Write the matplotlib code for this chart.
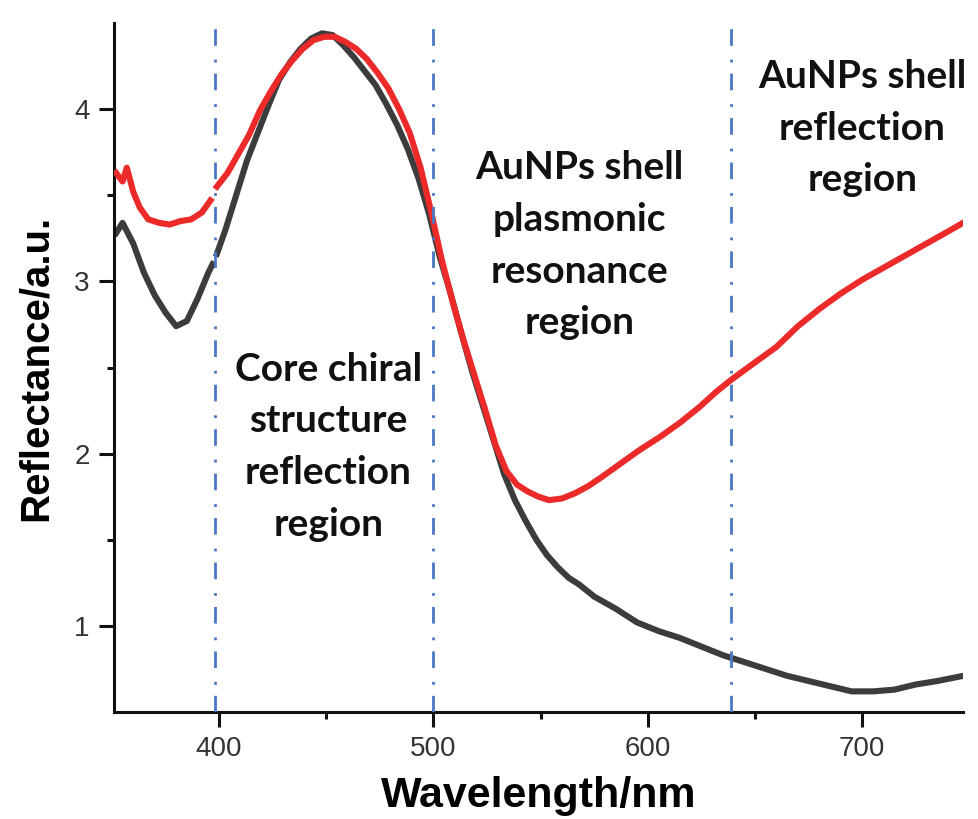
import numpy as np
import matplotlib
matplotlib.use("Agg")
import matplotlib.pyplot as plt

# ---------------------------------------------------------------------------
# Data
# ---------------------------------------------------------------------------
wl_black = [352, 355, 360, 365, 370, 375, 380, 385, 390, 395, 397, 398,
            399, 403, 408, 413, 418, 423, 428, 433, 438, 443, 448, 453,
            458, 463, 468, 473, 478, 483, 488, 493, 498, 503, 508, 513,
            518, 523, 528, 533, 538, 543, 548, 553, 558, 563, 568, 575,
            585, 595, 605, 615, 625, 635, 645, 655, 665, 675, 685, 695,
            705, 715, 725, 735, 747]
r_black = [3.28, 3.34, 3.22, 3.05, 2.92, 2.82, 2.74, 2.77, 2.90, 3.05, 3.10, np.nan,
           3.16, 3.30, 3.50, 3.70, 3.86, 4.02, 4.17, 4.27, 4.35, 4.41, 4.44, 4.43,
           4.37, 4.30, 4.22, 4.14, 4.03, 3.91, 3.77, 3.60, 3.39, 3.14, 2.93, 2.70,
           2.48, 2.28, 2.08, 1.88, 1.73, 1.61, 1.50, 1.41, 1.34, 1.28, 1.24, 1.17,
           1.10, 1.02, 0.97, 0.93, 0.88, 0.83, 0.79, 0.75, 0.71, 0.68, 0.65, 0.62,
           0.62, 0.63, 0.66, 0.68, 0.71]

wl_red = [352, 355, 357, 360, 363, 367, 372, 377, 382, 387, 392, 396, 398,
          399, 404, 409, 414, 419, 424, 429, 434, 439, 444, 449, 454,
          459, 464, 469, 474, 479, 484, 489, 494, 499, 504, 509, 514,
          519, 524, 529, 534, 539, 544, 549, 554, 560, 566, 572, 578,
          587, 596, 606, 615, 624, 632, 639, 650, 660, 670, 680, 690,
          700, 710, 720, 730, 740, 747]
r_red = [3.63, 3.58, 3.66, 3.52, 3.43, 3.36, 3.34, 3.33, 3.35, 3.36, 3.40, 3.47, np.nan,
         3.55, 3.63, 3.74, 3.85, 3.99, 4.10, 4.20, 4.28, 4.35, 4.40, 4.42, 4.42,
         4.39, 4.35, 4.29, 4.21, 4.12, 4.00, 3.86, 3.66, 3.40, 3.12, 2.88, 2.66,
         2.46, 2.26, 2.05, 1.90, 1.82, 1.78, 1.75, 1.73, 1.74, 1.77, 1.81, 1.86,
         1.94, 2.02, 2.10, 2.18, 2.27, 2.36, 2.43, 2.53, 2.62, 2.74, 2.84, 2.93,
         3.01, 3.08, 3.15, 3.22, 3.29, 3.34]

region_bounds = [398, 500, 639]
region_labels = ["Core chiral\nstructure\nreflection\nregion",
                 "AuNPs shell\nplasmonic\nresonance\nregion",
                 "AuNPs shell\nreflection\nregion"]
label_pos = [(451, 2.04), (568, 3.21), (700, 3.89)]

x_ticks = [400, 500, 600, 700]
y_ticks = [1, 2, 3, 4]

# ---------------------------------------------------------------------------
# Figure
# ---------------------------------------------------------------------------
fig = plt.figure(figsize=(9.79, 8.19), dpi=100)
ax = fig.add_axes([0.1164, 0.1306, 0.8673, 0.8413])

ax.plot(wl_black, r_black, color="#3c3c3c", lw=4.4, solid_joinstyle="round", zorder=2)
ax.plot(wl_red, r_red, color="#ec2a2a", lw=4.4, solid_joinstyle="round", zorder=3)

# region boundaries (dash-dot)
for xb in region_bounds:
    ax.axvline(xb, color="#4a78c2", lw=2.0, ls=(0, (6, 4, 1, 5)), zorder=4)

for (tx, ty), lab in zip(label_pos, region_labels):
    ax.text(tx, ty, lab, ha="center", va="center", fontsize=28,
            family="Lato", fontweight="bold", color="#111111",
            linespacing=1.58, zorder=5)

ax.set_xlim(351, 747)
ax.set_ylim(0.5, 4.5)
ax.set_xticks(x_ticks)
ax.set_yticks(y_ticks)
ax.set_xticks([450, 550, 650], minor=True)
ax.set_yticks([1.5, 2.5, 3.5], minor=True)

for s in ["top", "right"]:
    ax.spines[s].set_visible(False)
for s in ["left", "bottom"]:
    ax.spines[s].set_linewidth(2.2)
    ax.spines[s].set_color("#111111")

ax.tick_params(which="major", direction="out", length=10.5, width=2.2,
               color="#111111", labelsize=20, labelcolor="#333333", pad=7)
ax.tick_params(which="minor", direction="out", length=5, width=2.2, color="#111111")
for lab in ax.get_xticklabels() + ax.get_yticklabels():
    lab.set_family("Liberation Sans")

ax.set_xlabel("Wavelength/nm", fontsize=31, family="Liberation Sans",
              fontweight="bold", labelpad=10)
ax.set_ylabel("Reflectance/a.u.", fontsize=29, family="Liberation Sans",
              fontweight="bold", labelpad=14)

fig.savefig("out.png", dpi=100)
